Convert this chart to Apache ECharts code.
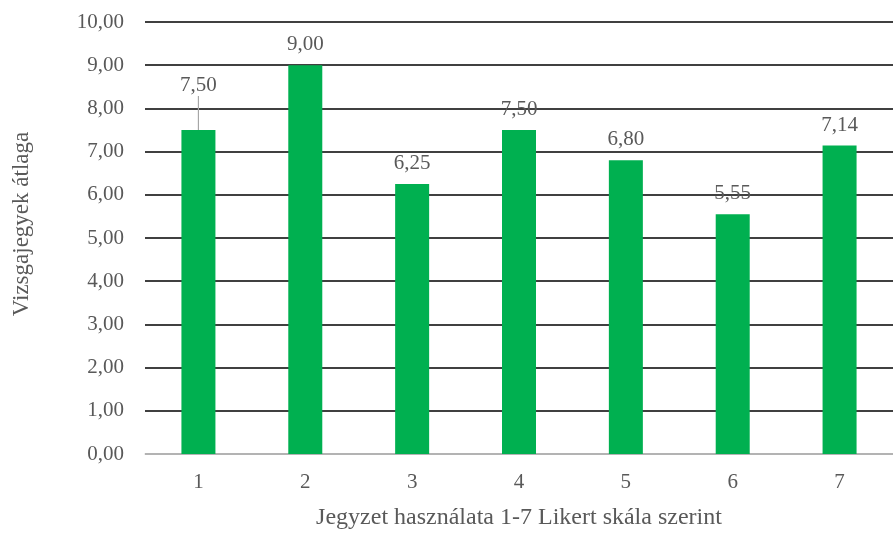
<!DOCTYPE html>
<html>
<head>
<meta charset="utf-8">
<script src="https://cdn.jsdelivr.net/npm/echarts@6/dist/echarts.min.js"></script>
<style>
  html, body { margin: 0; padding: 0; background: #fff; }
  #chart { width: 893px; height: 535px; }
</style>
</head>
<body>
<div id="chart"></div>
<script>
// Likert categories and exam averages
const categories = ["1", "2", "3", "4", "5", "6", "7"];
const averages = [7.5, 9.0, 6.25, 7.5, 6.8, 5.55, 7.14];
const yTicks = { min: 0, max: 10, interval: 1 };

const fmt = (v) => v.toFixed(2).replace(".", ",");
const serif = "'Liberation Serif', 'DejaVu Serif', serif";
const grey = "#595959";

// only the first label is pulled up with a leader line
const barData = averages.map((v, i) =>
  i === 0 ? { value: v, labelLine: { show: true } } : { value: v }
);

const chart = echarts.init(document.getElementById("chart"));
chart.setOption({
  animation: false,
  grid: { left: 145, top: 22, width: 758, bottom: 78 },
  xAxis: {
    type: "category",
    data: categories,
    name: "Jegyzet használata 1-7 Likert skála szerint",
    nameLocation: "middle",
    nameGap: 52,
    nameTextStyle: { fontFamily: serif, fontSize: 24, color: grey },
    axisLine: { lineStyle: { color: "#d9d9d9", width: 1.5 } },
    axisTick: { show: false },
    axisLabel: { fontFamily: serif, fontSize: 21, color: grey, margin: 18 },
  },
  yAxis: {
    type: "value",
    min: yTicks.min,
    max: yTicks.max,
    interval: yTicks.interval,
    name: "Vizsgajegyek átlaga",
    nameLocation: "middle",
    nameGap: 112,
    nameTextStyle: { fontFamily: serif, fontSize: 23, color: grey, padding: [0, 0, 0, 28] },
    axisLabel: {
      fontFamily: serif,
      fontSize: 21,
      color: grey,
      margin: 21,
      formatter: (v) => fmt(v),
    },
    splitLine: { lineStyle: { color: "#000", width: 1.5 } },
  },
  series: [
    {
      type: "bar",
      data: barData,
      barWidth: 34,
      itemStyle: { color: "#00b050" },
      label: {
        show: true,
        position: "top",
        distance: 10,
        fontFamily: serif,
        fontSize: 21,
        color: grey,
        formatter: (p) => fmt(p.value),
      },
      labelLine: { show: false, lineStyle: { color: "#a6a6a6", width: 1.2 } },
      labelLayout: (p) => (p.dataIndex === 0 ? { dy: -24 } : {}),
    },
  ],
});
</script>
</body>
</html>
